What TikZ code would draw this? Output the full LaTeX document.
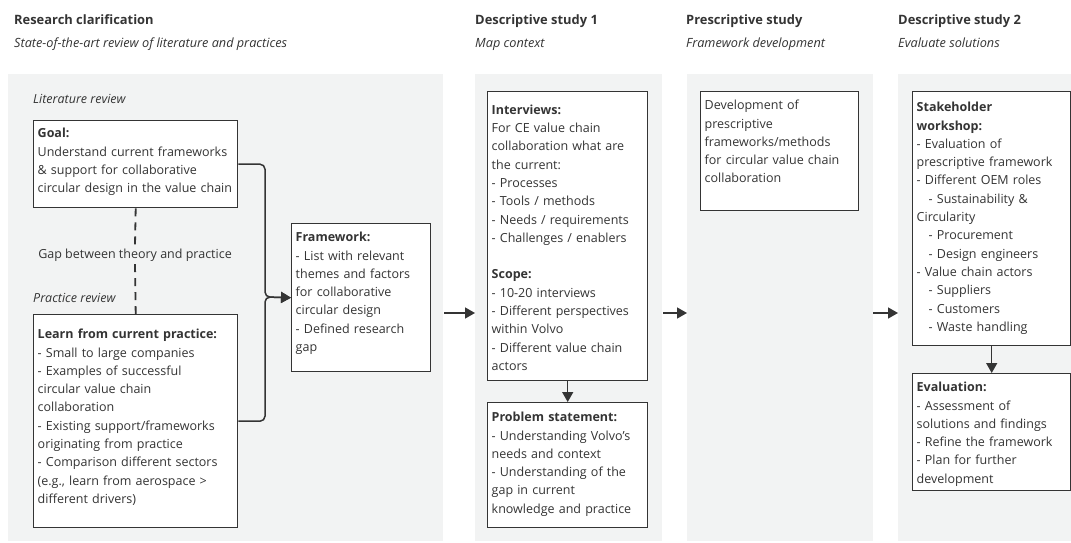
\documentclass[tikz,border=0pt]{standalone}
\usepackage{fontspec}
\setmainfont{Open Sans}
\usepackage{tikz}
\usetikzlibrary{arrows.meta}
\definecolor{panelgray}{RGB}{242,243,243}
\definecolor{inkgray}{RGB}{52,52,52}
\newcommand{\bodyfont}{\fontsize{12.5}{18.3}\selectfont}
\newcommand{\headfont}{\fontsize{12.9}{15}\selectfont\bfseries}
\newcommand{\subfont}{\fontsize{12.7}{15}\selectfont\itshape}

\begin{document}
\begin{tikzpicture}[x=1pt,y=-1pt,
        box/.style={draw=inkgray,line width=1.4pt,fill=white,anchor=north west,
            inner sep=4pt,align=left,text=inkgray,font=\bodyfont},
        plain/.style={text=inkgray,font=\bodyfont,inner sep=3pt},
        head/.style={text=inkgray,font=\headfont,inner sep=0pt,anchor=base west},
        subhead/.style={text=inkgray,font=\subfont,inner sep=0pt,anchor=base west},
        conn/.style={inkgray,line width=1.5pt,-{Triangle[length=10pt,width=11pt]}},
        gapline/.style={inkgray,line width=1.8pt,dash pattern=on 8pt off 6pt}]
            \useasboundingbox (0,0) rectangle (1071,542);

            % 背景のパネル
            \fill[panelgray] (8,74) rectangle (443,541);
            \fill[panelgray] (475,74) rectangle (662,541);
            \fill[panelgray] (687,74) rectangle (873,541);
            \fill[panelgray] (898,74) rectangle (1071,541);

            % 見出し
            \node[head] (rc) at (14,24) {Research clarification};
            \node[subhead] (rcsub) at (14,47.7) {State-of-the-art review of literature and practices};
            \node[head] (ds1) at (475,24) {Descriptive study 1};
            \node[subhead] (ds1sub) at (475,47.7) {Map context};
            \node[head] (ps) at (686,24) {Prescriptive study};
            \node[subhead] (pssub) at (686,47.7) {Framework development};
            \node[head] (ds2) at (898,24) {Descriptive study 2};
            \node[subhead] (ds2sub) at (898,47.7) {Evaluate solutions};

            % 文献と実践のレビュー
            \node[subhead,font=\bodyfont\itshape] (litrev) at (33,103) {Literature review};
            \node[subhead,font=\bodyfont\itshape] (pracrev) at (33,302) {Practice review};
            \node[box,text width=196pt,text height=13pt,text depth=66pt] (goal) at (33,120)
                {\textbf{Goal:}\\Understand current frameworks\\\& support for collaborative\\circular design in the value chain};
            \node[plain,anchor=base] (gap) at (135,258) {Gap between theory and practice};
            \node[box,text width=196pt,text height=20pt,text depth=185pt] (learn) at (33,314)
                {\textbf{Learn from current practice:}\\- Small to large companies\\- Examples of successful\\circular value chain\\collaboration\\- Existing support/frameworks\\originating from practice\\- Comparison different sectors\\(e.g., learn from aerospace >\\different drivers)};
            \node[box,text width=131pt,text height=14pt,text depth=126pt] (fw) at (291,223)
                {\textbf{Framework:}\\- List with relevant\\themes and factors\\for collaborative\\circular design\\- Defined research\\gap};

            % 記述的研究 1
            \node[box,text width=152pt,text height=18.5pt,text depth=262.5pt] (intv) at (487,91)
                {\textbf{Interviews:}\\For CE value chain\\collaboration what are\\the current:\\- Processes\\- Tools / methods\\- Needs / requirements\\- Challenges / enablers\\[18.3pt]\textbf{Scope:}\\- 10-20 interviews\\- Different perspectives\\within Volvo\\- Different value chain\\actors};
            \node[box,text width=152pt,text height=15pt,text depth=102pt] (prob) at (487,402)
                {\textbf{Problem statement:}\\- Understanding Volvo's\\needs and context\\- Understanding of the\\gap in current\\knowledge and practice};

            % 規範的研究
            \node[box,text width=150pt,text height=14pt,text depth=97pt] (presc) at (700,91)
                {Development of\\prescriptive\\frameworks/methods\\for circular value chain\\collaboration};

            % 記述的研究 2
            \node[box,text width=150pt,text height=16pt,text depth=230pt] (stake) at (912,91)
                {\textbf{Stakeholder}\\\textbf{workshop:}\\- Evaluation of\\prescriptive framework\\- Different OEM roles\\\hspace*{12pt}- Sustainability \&\\Circularity\\\hspace*{12pt}- Procurement\\\hspace*{12pt}- Design engineers\\- Value chain actors\\\hspace*{12pt}- Suppliers\\\hspace*{12pt}- Customers\\\hspace*{12pt}- Waste handling};
            \node[box,text width=150pt,text height=14pt,text depth=95pt] (eval) at (912,373)
                {\textbf{Evaluation:}\\- Assessment of\\solutions and findings\\- Refine the framework\\- Plan for further\\development};

            % 矢印
            \coordinate (jn) at (265,297);
            \draw[gapline] (goal.south)--(gap.north);
            \draw[gapline] (gap.south)--(learn.north);
            \draw[conn,rounded corners=5pt] (goal.east) -| (jn)--(fw.west);
            \draw[conn,rounded corners=5pt] (learn.east) -| (jn)--(fw.west);

            \coordinate (a1) at (444,313);
            \coordinate (b1) at (475,313);
            \coordinate (a2) at (663,313);
            \coordinate (b2) at (687,313);
            \coordinate (a3) at (873,313);
            \coordinate (b3) at (898,313);
            \draw[conn] (a1)--(b1);
            \draw[conn] (a2)--(b2);
            \draw[conn] (a3)--(b3);
            \draw[conn] (intv.south)--(prob.north);
            \draw[conn] (stake.south)--(eval.north);

        \end{tikzpicture}
\end{document}
